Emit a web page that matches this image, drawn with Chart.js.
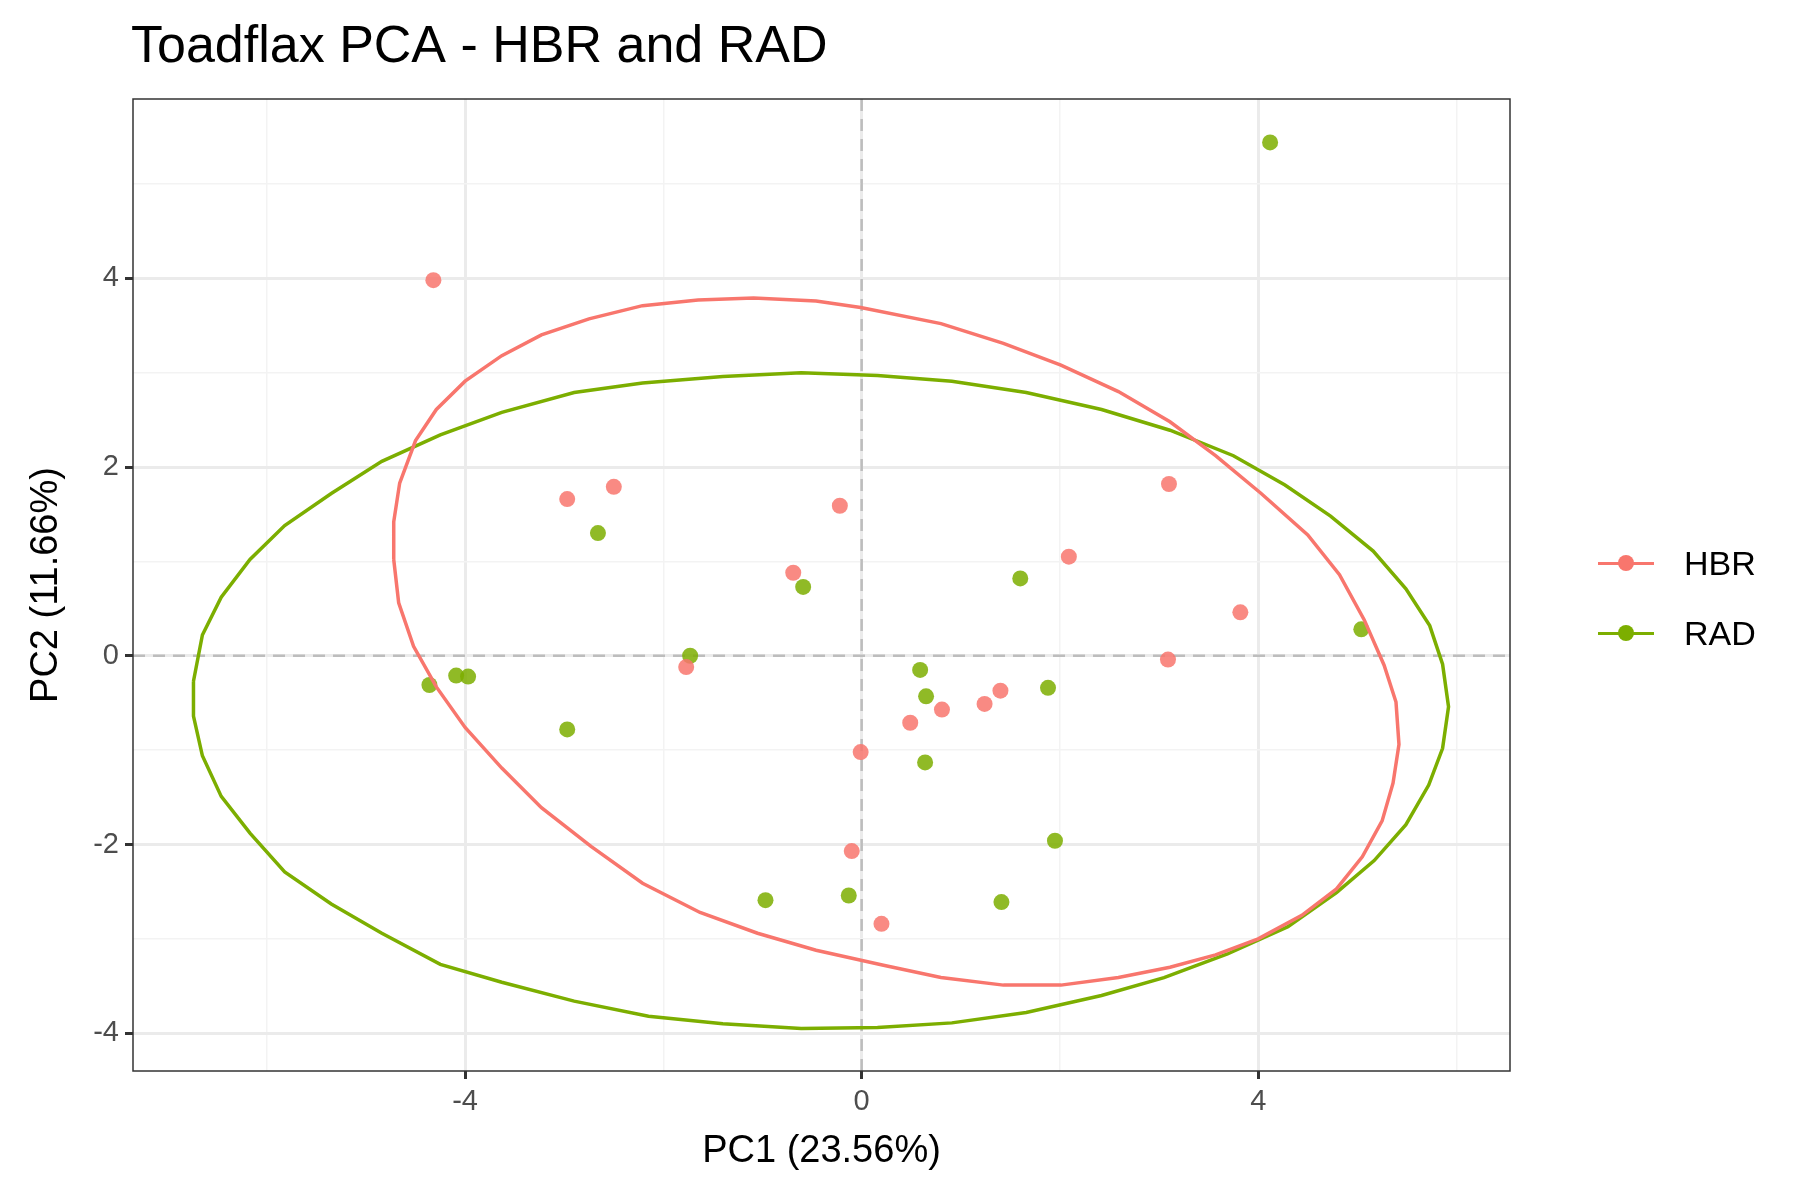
<!DOCTYPE html>
<html>
<head>
<meta charset="utf-8">
<script src="https://cdn.jsdelivr.net/npm/chart.js@4/dist/chart.umd.min.js"></script>
<style>
  body { margin: 0; background: #fff; }
  #wrap { position: relative; width: 1800px; height: 1200px; }
  #legend { position: absolute; left: 1598px; top: 528px; font: 34px "Liberation Sans", Arial, sans-serif; color: #000; }
  .item { display: flex; align-items: center; height: 70px; }
  .key { position: relative; width: 56px; height: 20px; margin-right: 30px; }
  .key .ln { position: absolute; left: 0; right: 0; top: 9px; height: 3px; }
  .key .pt { position: absolute; left: 20px; top: 2px; width: 16px; height: 16px; border-radius: 50%; }
</style>
</head>
<body>
<div id="wrap">
  <canvas id="c" width="1800" height="1200"></canvas>
  <div id="legend">
    <div class="item"><div class="key"><div class="ln" style="background:#F8766D"></div><div class="pt" style="background:#F8766D"></div></div>HBR</div>
    <div class="item"><div class="key"><div class="ln" style="background:#7CAE00"></div><div class="pt" style="background:#7CAE00"></div></div>RAD</div>
  </div>
</div>
<script>
const hbrX = [-4.32, -2.97, -2.50, -0.22, -0.69, -1.77, 3.10, 2.09, 3.82, 3.09, -0.01, 0.49, 0.81, 1.24, 1.40, -0.10, 0.20];
const hbrY = [3.98, 1.66, 1.79, 1.59, 0.88, -0.12, 1.82, 1.05, 0.46, -0.04, -1.02, -0.71, -0.57, -0.51, -0.37, -2.07, -2.84];
const radX = [4.12, -2.66, -0.59, -1.73, -4.36, -4.09, -3.97, -2.97, 1.60, 5.04, 0.59, 0.65, 0.64, 1.88, 1.95, 1.41, -0.97, -0.13];
const radY = [5.44, 1.30, 0.73, 0.0, -0.31, -0.21, -0.22, -0.78, 0.82, 0.28, -0.15, -0.43, -1.13, -0.34, -1.96, -2.61, -2.59, -2.54];

const hbrEllX = [-4.72,-4.72,-4.66,-4.50,-4.29,-4.00,-3.63,-3.23,-2.75,-2.21,-1.65,-1.09,-0.46,-0.01,0.80,1.43,2.01,2.59,3.11,3.57,4.03,4.50,4.82,5.07,5.27,5.39,5.42,5.36,5.25,5.05,4.79,4.44,4.00,3.57,3.11,2.59,2.01,1.43,0.80,0.22,-0.46,-1.05,-1.63,-2.21,-2.73,-3.23,-3.63,-4.00,-4.29,-4.52,-4.67,-4.72];
const hbrEllY = [1.02,1.42,1.83,2.28,2.61,2.91,3.18,3.40,3.57,3.71,3.77,3.79,3.76,3.69,3.52,3.31,3.08,2.80,2.48,2.12,1.72,1.28,0.86,0.38,-0.10,-0.49,-0.94,-1.35,-1.75,-2.13,-2.47,-2.75,-3.00,-3.17,-3.30,-3.41,-3.49,-3.49,-3.41,-3.28,-3.12,-2.94,-2.72,-2.41,-2.02,-1.61,-1.19,-0.76,-0.33,0.10,0.56,1.02];
const radEllX = [-6.74,-6.65,-6.46,-6.17,-5.82,-5.35,-4.84,-4.25,-3.63,-2.90,-2.21,-1.40,-0.61,0.16,0.91,1.66,2.42,3.11,3.75,4.27,4.73,5.16,5.49,5.73,5.86,5.92,5.86,5.72,5.49,5.17,4.79,4.30,3.69,3.05,2.42,1.66,0.91,0.16,-0.61,-1.40,-2.15,-2.90,-3.63,-4.25,-4.84,-5.35,-5.82,-6.17,-6.46,-6.65,-6.74,-6.74];
const radEllY = [-0.27,0.22,0.62,1.02,1.38,1.72,2.06,2.34,2.58,2.79,2.89,2.96,3.00,2.97,2.91,2.79,2.61,2.39,2.12,1.81,1.48,1.11,0.71,0.32,-0.09,-0.54,-0.98,-1.37,-1.79,-2.17,-2.51,-2.87,-3.16,-3.41,-3.60,-3.78,-3.89,-3.94,-3.95,-3.90,-3.82,-3.66,-3.46,-3.27,-2.94,-2.63,-2.29,-1.88,-1.49,-1.06,-0.64,-0.27];

const pts = (xs, ys) => xs.map((x, i) => ({ x: x, y: ys[i] }));
const font = '"Liberation Sans", Arial, sans-serif';

const extras = {
  id: "extras",
  beforeDatasetsDraw(chart) {
    const { ctx, chartArea: a, scales } = chart;
    ctx.save();
    ctx.strokeStyle = "#bdbdbd";
    ctx.lineWidth = 2.5;
    ctx.setLineDash([12, 8]);
    const x0 = scales.x.getPixelForValue(0), y0 = scales.y.getPixelForValue(0);
    ctx.beginPath();
    ctx.moveTo(x0, a.top); ctx.lineTo(x0, a.bottom);
    ctx.moveTo(a.left, y0); ctx.lineTo(a.right, y0);
    ctx.stroke();
    ctx.restore();
  },
  afterDraw(chart) {
    const { ctx, chartArea: a } = chart;
    ctx.save();
    ctx.strokeStyle = "#333";
    ctx.lineWidth = 1.5;
    ctx.strokeRect(a.left, a.top, a.right - a.left, a.bottom - a.top);
    ctx.fillStyle = "#000";
    ctx.font = "52px " + font;
    ctx.textBaseline = "alphabetic";
    ctx.fillText("Toadflax PCA - HBR and RAD", 131, 62);
    ctx.restore();
  }
};

const gridOpts = (isMajor) => ({
  color: (c) => isMajor(c.tick.value) ? "#ebebeb" : "#f3f3f3",
  lineWidth: (c) => isMajor(c.tick.value) ? 3 : 1.5,
  tickColor: (c) => isMajor(c.tick.value) ? "#333" : "rgba(0,0,0,0)",
  tickLength: 8,
  drawTicks: true
});

new Chart("c", {
  type: "scatter",
  data: {
    datasets: [
      { label: "HBR ellipse", data: pts(hbrEllX, hbrEllY), showLine: true, pointRadius: 0, borderColor: "#F8766D", borderWidth: 3.5, fill: false },
      { label: "RAD ellipse", data: pts(radEllX, radEllY), showLine: true, pointRadius: 0, borderColor: "#7CAE00", borderWidth: 3.5, fill: false },
      { label: "HBR", data: pts(hbrX, hbrY), pointRadius: 8, backgroundColor: "rgba(248,118,109,0.85)", borderWidth: 0 },
      { label: "RAD", data: pts(radX, radY), pointRadius: 8, backgroundColor: "rgba(124,174,0,0.85)", borderWidth: 0 }
    ]
  },
  plugins: [extras],
  options: {
    responsive: false,
    animation: false,
    layout: { padding: { left: 20, right: 290, top: 99, bottom: 22 } },
    plugins: { legend: { display: false }, tooltip: { enabled: false } },
    scales: {
      x: {
        type: "linear", min: -7.35, max: 6.54,
        afterBuildTicks: (s) => { s.ticks = [-6, -4, -2, 0, 2, 4, 6].map(v => ({ value: v })); },
        afterFit: (s) => { s.height = 107; },
        grid: gridOpts(v => v % 4 === 0),
        border: { display: false },
        ticks: { color: "#4d4d4d", font: { size: 29, family: font }, padding: 6, callback: (v) => v % 4 === 0 ? String(v) : "" },
        title: { display: true, text: "PC1 (23.56%)", color: "#000", font: { size: 38, family: font }, padding: { top: 4 } }
      },
      y: {
        type: "linear", min: -4.40, max: 5.90,
        afterBuildTicks: (s) => { s.ticks = [-4, -3, -2, -1, 0, 1, 2, 3, 4, 5].map(v => ({ value: v })); },
        afterFit: (s) => { s.width = 113; },
        grid: gridOpts(v => v % 2 === 0),
        border: { display: false },
        ticks: { color: "#4d4d4d", font: { size: 29, family: font }, padding: 6, callback: (v) => v % 2 === 0 ? String(v) : "" },
        title: { display: true, text: "PC2 (11.66%)", color: "#000", font: { size: 38, family: font }, padding: { bottom: 4 } }
      }
    }
  }
});
</script>
</body>
</html>
